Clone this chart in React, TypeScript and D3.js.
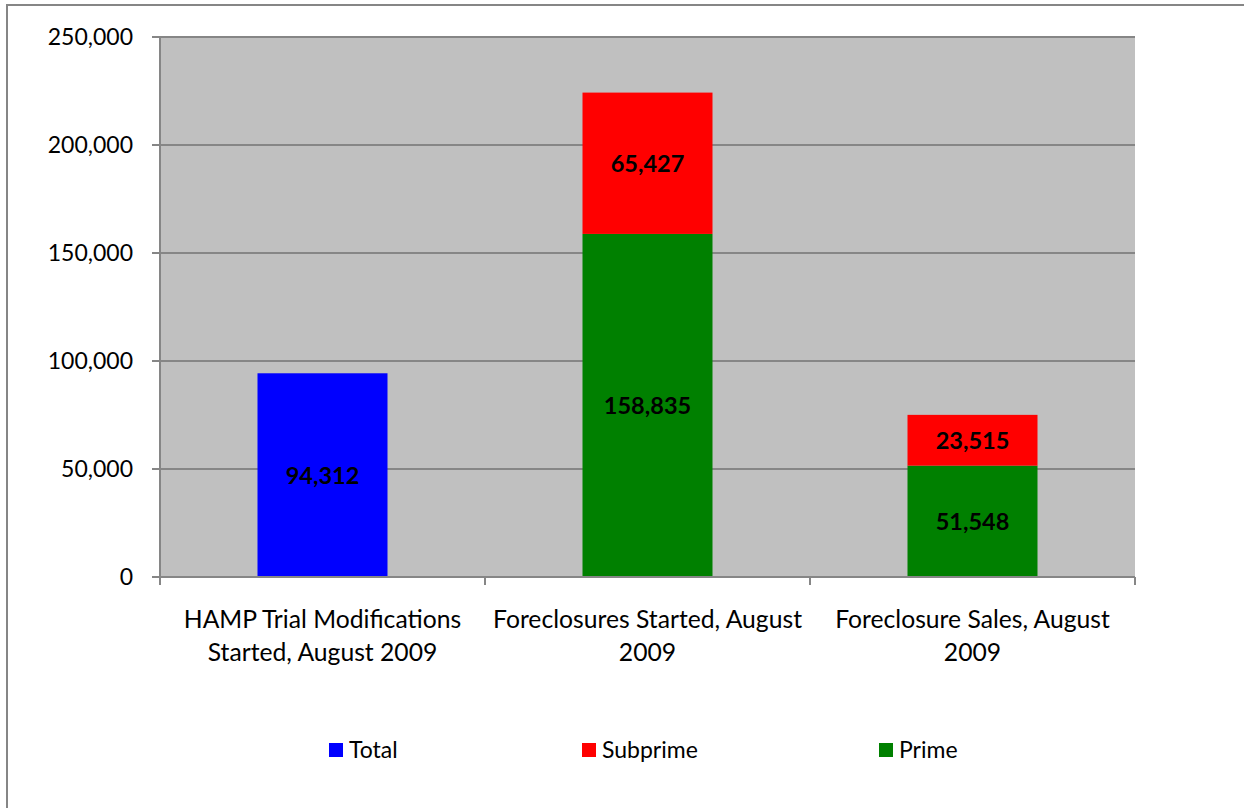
import * as d3 from "d3";

const categories = [
  ["HAMP Trial Modifications", "Started, August 2009"],
  ["Foreclosures Started, August", "2009"],
  ["Foreclosure Sales, August", "2009"],
];
const totalValues = [94312, 0, 0];
const primeValues = [0, 158835, 51548];
const subprimeValues = [0, 65427, 23515];
const yTicks = [0, 50000, 100000, 150000, 200000, 250000];
const legendItems = [
  { name: "Total", color: "#0000FF" },
  { name: "Subprime", color: "#FF0000" },
  { name: "Prime", color: "#008000" },
];

const W = 1244;
const H = 808;
const plot = { left: 160, right: 1135, top: 37, bottom: 577 };
const font = "Lato, 'Open Sans', sans-serif";
const gridColor = "#868686";

export default function App() {
  const x = d3
    .scaleBand<number>()
    .domain(categories.map((_, i) => i))
    .range([plot.left, plot.right])
    .paddingInner(0.6)
    .paddingOuter(0.3);
  const y = d3.scaleLinear().domain([0, 250000]).range([plot.bottom, plot.top]);
  const fmt = d3.format(",");
  const step = (plot.right - plot.left) / categories.length;

  // segments per category, prime at bottom, subprime stacked on top
  const segs: { i: number; y0: number; y1: number; color: string }[] = [];
  categories.forEach((_, i) => {
    if (totalValues[i] > 0) segs.push({ i, y0: 0, y1: totalValues[i], color: "#0000FF" });
    if (primeValues[i] > 0) segs.push({ i, y0: 0, y1: primeValues[i], color: "#008000" });
    if (subprimeValues[i] > 0)
      segs.push({
        i,
        y0: primeValues[i],
        y1: primeValues[i] + subprimeValues[i],
        color: "#FF0000",
      });
  });

  const legendX = [329, 582, 879];

  return (
    <svg
      width={W}
      height={H}
      style={{ position: "absolute", left: 0, top: 0, background: "#fff" }}
    >
      <rect x={7} y={5} width={W + 20} height={H + 20} fill="#fff" stroke={gridColor} strokeWidth={2} />
      <rect
        x={plot.left}
        y={plot.top}
        width={plot.right - plot.left}
        height={plot.bottom - plot.top}
        fill="#C0C0C0"
      />
      {yTicks.map((t) => (
        <g key={t}>
          <line
            x1={plot.left - 8}
            x2={t === 0 ? plot.left : plot.right}
            y1={y(t)}
            y2={y(t)}
            stroke={gridColor}
            strokeWidth={2}
          />
          <text
            x={plot.left - 27}
            y={y(t)}
            dy="0.36em"
            textAnchor="end"
            fontFamily={font}
            fontSize={23}
            fill="#000"
          >
            {fmt(t)}
          </text>
        </g>
      ))}
      {segs.map((s, k) => (
        <rect
          key={k}
          x={x(s.i)}
          width={x.bandwidth()}
          y={y(s.y1)}
          height={y(s.y0) - y(s.y1)}
          fill={s.color}
        />
      ))}
      {segs.map((s, k) => (
        <text
          key={"l" + k}
          x={(x(s.i) ?? 0) + x.bandwidth() / 2}
          y={(y(s.y0) + y(s.y1)) / 2}
          dy="0.36em"
          textAnchor="middle"
          fontFamily={font}
          fontWeight="bold"
          fontSize={23.5}
          fill="#000"
        >
          {fmt(s.y1 - s.y0)}
        </text>
      ))}
      <line x1={plot.left} x2={plot.left} y1={plot.top} y2={plot.bottom} stroke={gridColor} strokeWidth={2} />
      <line x1={plot.left - 8} x2={plot.right} y1={plot.bottom} y2={plot.bottom} stroke={gridColor} strokeWidth={2} />
      {d3.range(categories.length + 1).map((i) => (
        <line
          key={"t" + i}
          x1={plot.left + i * step}
          x2={plot.left + i * step}
          y1={plot.bottom}
          y2={plot.bottom + 8}
          stroke={gridColor}
          strokeWidth={2}
        />
      ))}
      {categories.map((lines, i) => (
        <text
          key={"c" + i}
          x={(x(i) ?? 0) + x.bandwidth() / 2}
          y={619}
          textAnchor="middle"
          fontFamily={font}
          fontSize={24.7}
          fill="#000"
        >
          {lines.map((ln, j) => (
            <tspan key={j} x={(x(i) ?? 0) + x.bandwidth() / 2} dy={j === 0 ? "0.36em" : 33}>
              {ln}
            </tspan>
          ))}
        </text>
      ))}
      {legendItems.map((d, i) => (
        <g key={d.name}>
          <rect x={legendX[i]} y={743} width={14} height={14} fill={d.color} />
          <text x={legendX[i] + 20} y={750} dy="0.36em" fontFamily={font} fontSize={23} fill="#000">
            {d.name}
          </text>
        </g>
      ))}
    </svg>
  );
}
